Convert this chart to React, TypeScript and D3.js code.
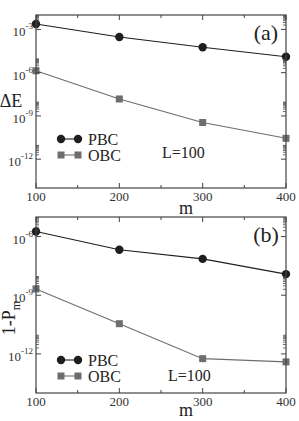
import React from "react";
import * as d3 from "d3";

// m values on the x axis
const mValues = [100, 200, 300, 400];
const mMinor = [150, 250, 350];

// panel (a): energy gap
const pbcGap = [2.4e-3, 3.0e-4, 5.8e-5, 1.26e-5];
const obcGap = [1.35e-6, 1.5e-8, 3.5e-10, 2.8e-11];
const gapMajors = [-3, -6, -9, -12];

// panel (b): 1 - P_m
const pbcLoss = [1.8e-6, 2.1e-7, 7.2e-8, 1.2e-8];
const obcLoss = [2.1e-9, 3.5e-11, 5.7e-13, 3.9e-13];
const lossMajors = [-6, -9, -12];

const seriesNames = ["PBC", "OBC"];
const sizeLabel = "L=100";

const FONT = "'Liberation Serif', 'Times New Roman', serif";
const DARK = "#1e1e1e";
const GREY = "#6e6e6e";

type PanelProps = {
  top: number;
  bottom: number;
  domain: [number, number];
  majors: number[];
  pbc: number[];
  obc: number[];
  tag: string;
  yLabel: React.ReactNode;
  legendY: number;
  sizeX: number;
  sizeY: number;
  mY: number;
};

const Panel = ({ top, bottom, domain, majors, pbc, obc, tag, yLabel, legendY, sizeX, sizeY, mY }: PanelProps) => {
  const left = 36;
  const right = 286;
  const x = d3.scaleLinear().domain([100, 400]).range([left, right]);
  const y = d3.scaleLog().domain(domain).range([bottom, top]);

  const line = d3
    .line<number>()
    .x((_, i) => x(mValues[i]))
    .y((d) => y(d));

  // minor ticks: 2..9 times each major decade (grace style)
  const minors: number[] = [];
  majors.forEach((e) => {
    for (let k = 2; k <= 9; k++) {
      const v = k * Math.pow(10, e);
      if (v <= domain[1]) minors.push(v);
    }
  });

  const legX = 61;
  const legY1 = legendY;
  const legY2 = legendY + 16;

  return (
    <g>
      {/* series */}
      <path d={line(obc) || ""} fill="none" stroke={GREY} strokeWidth={1.1} />
      <path d={line(pbc) || ""} fill="none" stroke={DARK} strokeWidth={1.1} />
      {obc.map((v, i) => (
        <rect key={"o" + i} x={x(mValues[i]) - 3.5} y={y(v) - 3.5} width={7} height={7} fill={GREY} />
      ))}
      {pbc.map((v, i) => (
        <circle key={"p" + i} cx={x(mValues[i])} cy={y(v)} r={4.2} fill={DARK} />
      ))}

      {/* frame */}
      <rect x={left} y={top} width={right - left} height={bottom - top} fill="none" stroke="#444" strokeWidth={1.2} />

      {/* x ticks */}
      {mValues.map((m) => (
        <g key={"xt" + m}>
          <line x1={x(m)} x2={x(m)} y1={bottom} y2={bottom - 5} stroke="#444" />
          <line x1={x(m)} x2={x(m)} y1={top} y2={top + 5} stroke="#444" />
          <text x={x(m)} y={bottom + 13} textAnchor="middle" fontSize={13} fontFamily={FONT} fill="#333">
            {m}
          </text>
        </g>
      ))}
      {mMinor.map((m) => (
        <g key={"xm" + m}>
          <line x1={x(m)} x2={x(m)} y1={bottom} y2={bottom - 3} stroke="#444" />
          <line x1={x(m)} x2={x(m)} y1={top} y2={top + 3} stroke="#444" />
        </g>
      ))}
      <text x={186} y={mY} textAnchor="middle" fontSize={18} fontFamily={FONT} fill="#222">
        m
      </text>

      {/* y ticks */}
      {majors.map((e) => {
        const yy = y(Math.pow(10, e));
        return (
          <g key={"yt" + e}>
            <line x1={left} x2={left + 5} y1={yy} y2={yy} stroke="#444" />
            <line x1={right} x2={right - 5} y1={yy} y2={yy} stroke="#444" />
            <text x={33} y={yy + 7} textAnchor="end" fontSize={13} fontFamily={FONT} fill="#333">
              10
              <tspan fontSize={9} dy={-7}>
                {String(e)}
              </tspan>
            </text>
          </g>
        );
      })}
      {minors.map((v, i) => (
        <g key={"ym" + i}>
          <line x1={left} x2={left + 3} y1={y(v)} y2={y(v)} stroke="#444" strokeWidth={0.8} />
          <line x1={right} x2={right - 3} y1={y(v)} y2={y(v)} stroke="#444" strokeWidth={0.8} />
        </g>
      ))}

      {yLabel}

      {/* panel tag */}
      <text x={266} y={top + 25} textAnchor="middle" fontSize={22} fontFamily={FONT} fill="#222">
        {tag}
      </text>

      {/* legend */}
      <line x1={legX} x2={legX + 17} y1={legY1} y2={legY1} stroke={DARK} strokeWidth={1.1} />
      <circle cx={legX} cy={legY1} r={4.2} fill={DARK} />
      <circle cx={legX + 17} cy={legY1} r={4.2} fill={DARK} />
      <text x={88} y={legY1 + 6} fontSize={16} fontFamily={FONT} fill="#222">
        {seriesNames[0]}
      </text>
      <line x1={legX} x2={legX + 17} y1={legY2} y2={legY2} stroke={GREY} strokeWidth={1.1} />
      <rect x={legX - 3.5} y={legY2 - 3.5} width={7} height={7} fill={GREY} />
      <rect x={legX + 17 - 3.5} y={legY2 - 3.5} width={7} height={7} fill={GREY} />
      <text x={88} y={legY2 + 6} fontSize={16} fontFamily={FONT} fill="#222">
        {seriesNames[1]}
      </text>
      <text x={sizeX} y={sizeY} fontSize={16} fontFamily={FONT} fill="#222">
        {sizeLabel}
      </text>
    </g>
  );
};

export default function App() {
  return (
    <svg
      width={299}
      height={421}
      style={{ position: "absolute", left: 0, top: 0, background: "#fff" }}
    >
      <Panel
        top={15}
        bottom={188}
        domain={[1e-14, 1e-2]}
        majors={gapMajors}
        pbc={pbcGap}
        obc={obcGap}
        tag="(a)"
        legendY={139}
        sizeX={162}
        sizeY={158}
        mY={214}
        yLabel={
          <text x={11} y={107} textAnchor="middle" fontSize={18} fontFamily={FONT} fill="#222">
            ΔE
          </text>
        }
      />
      <Panel
        top={217}
        bottom={393}
        domain={[1e-14, 1e-5]}
        majors={lossMajors}
        pbc={pbcLoss}
        obc={obcLoss}
        tag="(b)"
        legendY={360}
        sizeX={168}
        sizeY={381}
        mY={416}
        yLabel={
          <text
            transform="translate(15,318) rotate(-90)"
            textAnchor="middle"
            fontSize={18}
            fontFamily={FONT}
            fill="#222"
          >
            1-P
            <tspan fontSize={12} dy={5}>
              m
            </tspan>
          </text>
        }
      />
    </svg>
  );
}
